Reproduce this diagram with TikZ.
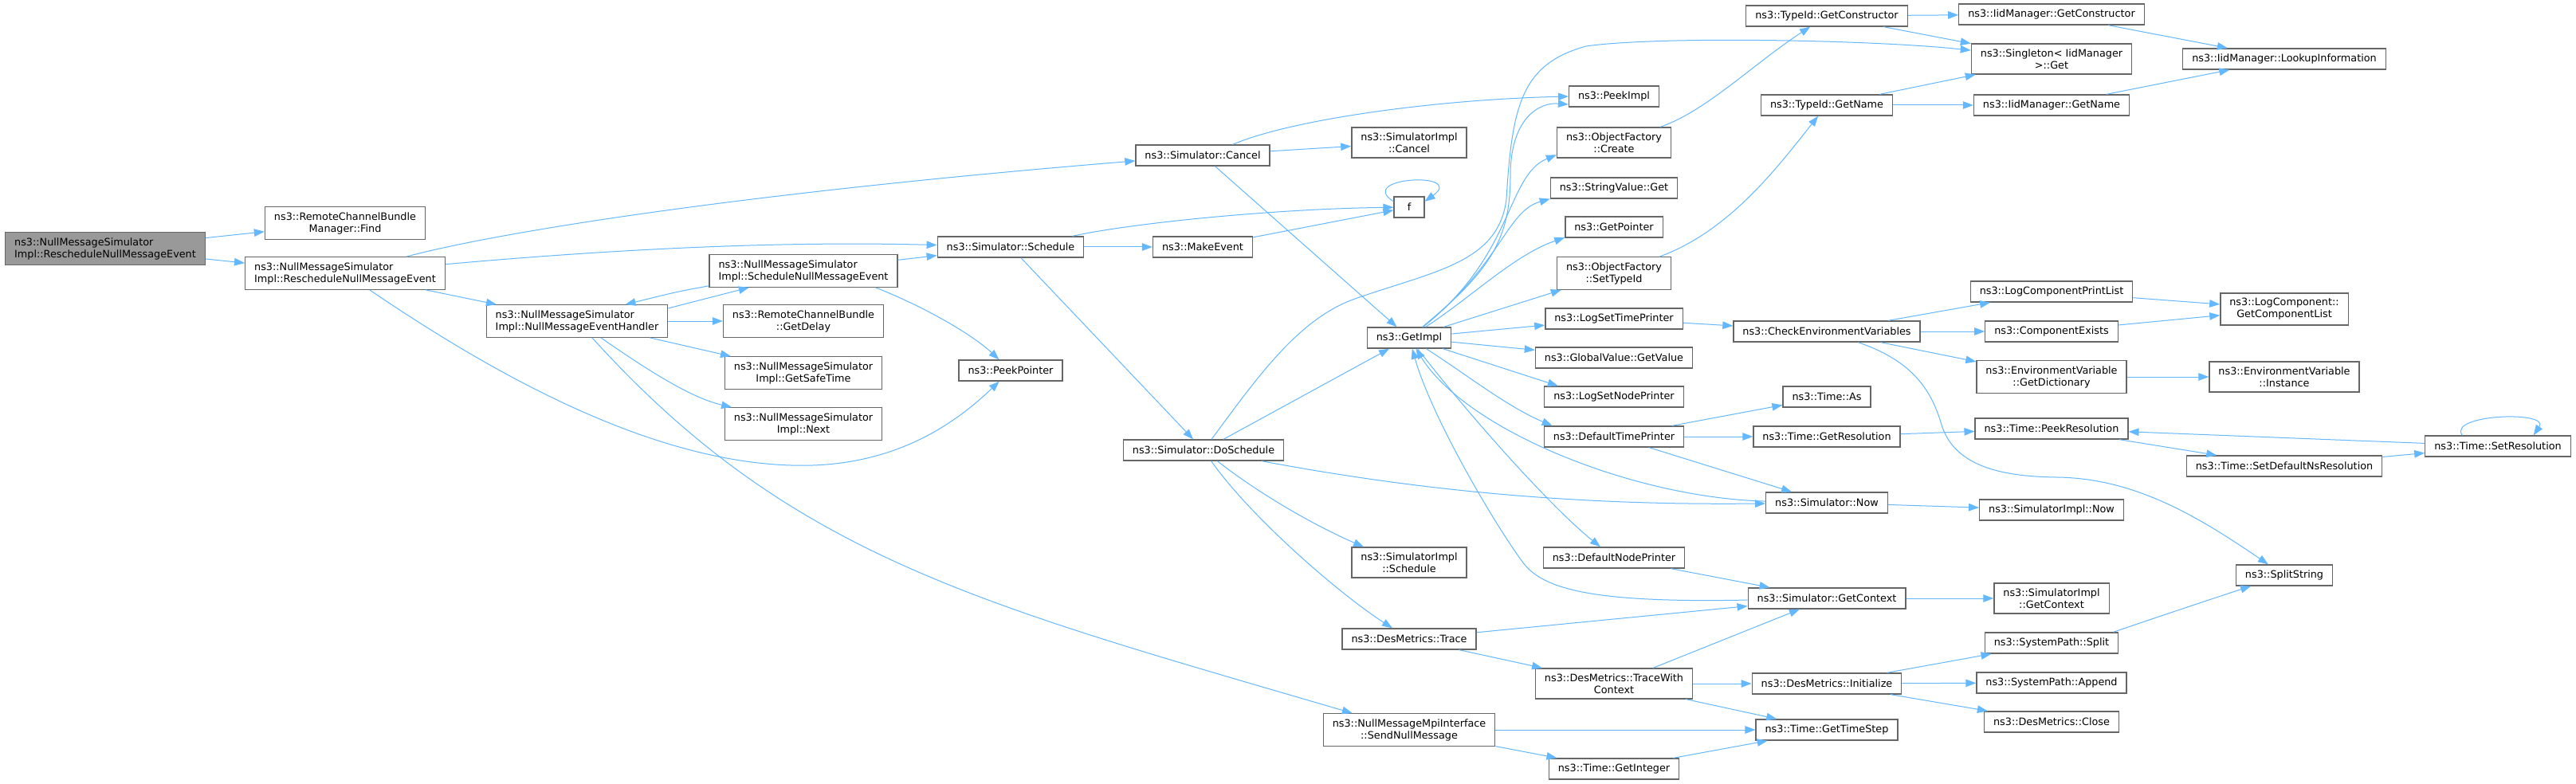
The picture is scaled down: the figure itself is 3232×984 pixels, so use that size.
\documentclass[tikz,border=0pt]{standalone}
\usepackage{fontspec}
\setmainfont{DejaVu Sans}
\usetikzlibrary{arrows.meta}
\definecolor{edgeBlue}{HTML}{63B8FF}
\definecolor{boxGray}{HTML}{666666}
\definecolor{rootFill}{HTML}{999999}
\tikzset{
    FuncBox/.style={draw=boxGray, fill=white, line width=1.3pt, inner xsep=11.5pt, inner ysep=6.5pt, minimum height=26pt, align=center, font=\fontsize{12.8}{15}\selectfont},
    LeftBox/.style={FuncBox, align=left},
    RootBox/.style={LeftBox, fill=rootFill},
    CallArrow/.style={draw=edgeBlue, line width=1pt, -{Triangle[length=13pt, width=9.5pt]}}
}

\begin{document}
\begin{tikzpicture}[x=1pt, y=-1pt]
    \fill[white] (0,0) rectangle (3232,984);
    \useasboundingbox (0,0) rectangle (3232,984);

    % caller side
    \node[RootBox] (root) at (132,312) {ns3::NullMessageSimulator\\Impl::RescheduleNullMessageEvent};
    \node[FuncBox] (find) at (433,280) {ns3::RemoteChannelBundle\\Manager::Find};
    \node[LeftBox] (rs) at (433,343) {ns3::NullMessageSimulator\\Impl::RescheduleNullMessageEvent};
    \node[LeftBox] (hdl) at (724,403) {ns3::NullMessageSimulator\\Impl::NullMessageEventHandler};
    \node[LeftBox] (snme) at (1008,340) {ns3::NullMessageSimulator\\Impl::ScheduleNullMessageEvent};
    \node[FuncBox] (gdelay) at (1008,403) {ns3::RemoteChannelBundle\\::GetDelay};
    \node[FuncBox] (gsafe) at (1008,468) {ns3::NullMessageSimulator\\Impl::GetSafeTime};
    \node[FuncBox] (next) at (1008,532) {ns3::NullMessageSimulator\\Impl::Next};
    \node[FuncBox] (sched) at (1268,310) {ns3::Simulator::Schedule};
    \node[FuncBox] (ppointer) at (1268,465) {ns3::PeekPointer};
    \node[FuncBox] (cancel) at (1509,195) {ns3::Simulator::Cancel};
    \node[FuncBox] (mkev) at (1509,310) {ns3::MakeEvent};
    \node[FuncBox] (dosched) at (1510,565) {ns3::Simulator::DoSchedule};

    % middle columns
    \node[FuncBox] (sicancel) at (1768,179) {ns3::SimulatorImpl\\::Cancel};
    \node[FuncBox, minimum width=38pt] (f) at (1768,260) {f};
    \node[FuncBox] (gimpl) at (1768,424) {ns3::GetImpl};
    \node[FuncBox] (sisched) at (1768,706) {ns3::SimulatorImpl\\::Schedule};
    \node[FuncBox] (trace) at (1768,802) {ns3::DesMetrics::Trace};
    \node[FuncBox] (sendnull) at (1768,916) {ns3::NullMessageMpiInterface\\::SendNullMessage};

    \foreach \nm/\yy/\txt in {pimpl/121/{ns3::PeekImpl}, ofcreate/179/{ns3::ObjectFactory\\::Create},
        svget/236/{ns3::StringValue::Get}, gptr/285/{ns3::GetPointer}, ofsettid/343/{ns3::ObjectFactory\\::SetTypeId},
        lstp/400/{ns3::LogSetTimePrinter}, gvval/449/{ns3::GlobalValue::GetValue}, lsnp/498/{ns3::LogSetNodePrinter},
        dtp/548/{ns3::DefaultTimePrinter}, dnp/700/{ns3::DefaultNodePrinter}, twc/858/{ns3::DesMetrics::TraceWith\\Context},
        gint/965/{ns3::Time::GetInteger}}
        \node[FuncBox] (\nm) at (2025,\yy) {\txt};

    \foreach \nm/\yy/\txt in {tgctor/20/{ns3::TypeId::GetConstructor}, tgname/132/{ns3::TypeId::GetName},
        cev/416/{ns3::CheckEnvironmentVariables}, tas/498/{ns3::Time::As}, tgres/548/{ns3::Time::GetResolution},
        snow/631/{ns3::Simulator::Now}, sgctx/751/{ns3::Simulator::GetContext}, dinit/858/{ns3::DesMetrics::Initialize},
        tstep/916/{ns3::Time::GetTimeStep}}
        \node[FuncBox] (\nm) at (2292,\yy) {\txt};

    % callee side
    \foreach \nm/\yy/\txt in {igctor/18/{ns3::IidManager::GetConstructor}, sing/74/{ns3::Singleton< IidManager\\>::Get},
        igname/132/{ns3::IidManager::GetName}, lcpl/366/{ns3::LogComponentPrintList}, cexists/416/{ns3::ComponentExists},
        gdict/473/{ns3::EnvironmentVariable\\::GetDictionary}, tpres/538/{ns3::Time::PeekResolution},
        sinow/640/{ns3::SimulatorImpl::Now}, sigctx/751/{ns3::SimulatorImpl\\::GetContext},
        spsplit/807/{ns3::SystemPath::Split}, spappend/857/{ns3::SystemPath::Append}, dclose/906/{ns3::DesMetrics::Close}}
        \node[FuncBox] (\nm) at (2574,\yy) {\txt};

    \foreach \nm/\yy/\txt in {lookup/74/{ns3::IidManager::LookupInformation}, gclist/388/{ns3::LogComponent::\\GetComponentList},
        einst/473/{ns3::EnvironmentVariable\\::Instance}, tsdns/585/{ns3::Time::SetDefaultNsResolution},
        split/722/{ns3::SplitString}}
        \node[FuncBox] (\nm) at (2866,\yy) {\txt};

    \node[FuncBox] (tsres) at (3134,560) {ns3::Time::SetResolution};

    % straight calls
    \foreach \a/\b in {root/find, root/rs, rs/hdl, hdl/gdelay, hdl/gsafe, snme/sched, sched/mkev, mkev/f,
        sched/dosched, cancel/sicancel, cancel/gimpl, dosched/gimpl, gimpl/ofsettid, gimpl/lstp, gimpl/gvval,
        trace/sgctx, trace/twc, twc/sgctx, twc/dinit, twc/tstep, sendnull/tstep, sendnull/gint, gint/tstep,
        dnp/sgctx, dtp/tas, dtp/tgres, dtp/snow, sgctx/sigctx, snow/sinow, tgres/tpres, tpres/tsdns,
        tsdns/tsres, tsres/tpres, tgctor/igctor, tgctor/sing, tgname/sing, tgname/igname, igctor/lookup,
        igname/lookup, lstp/cev, cev/lcpl, cev/cexists, cev/gdict, lcpl/gclist, cexists/gclist, gdict/einst,
        dinit/spsplit, dinit/spappend, dinit/dclose}
        \draw[CallArrow] (\a) -- (\b);

    % curved calls
    \draw[CallArrow] (rs) .. controls (610,295) and (900,245) .. (cancel);
    \draw[CallArrow] (rs) .. controls (800,310) and (1000,303) .. (sched);
    \draw[CallArrow] (rs) .. controls (620,470) and (830,590) .. (1020,584) .. controls (1130,580) and (1200,530) .. (ppointer);
    \draw[CallArrow] (hdl.8) -- (snme.197);
    \draw[CallArrow] (snme.189) .. controls (850,366) .. (hdl.19);
    \draw[CallArrow] (hdl) .. controls (820,470) and (870,500) .. (next);
    \draw[CallArrow] (hdl) .. controls (992,699) and (1228,758) .. (sendnull);
    \draw[CallArrow] (snme.-13) .. controls (1160,385) and (1220,420) .. (ppointer);
    \draw[CallArrow] (sched.10) .. controls (1420,280) and (1600,262) .. (f);
    \draw[CallArrow] (f.160) .. controls (1700,222) and (1840,215) .. (f.20);
    \draw[CallArrow] (cancel.20) .. controls (1620,150) and (1800,125) .. (pimpl.west);
    \draw[CallArrow] (gimpl) .. controls (1870,340) and (1895,300) .. (1895,220) .. controls (1895,150) and (1930,128) .. (pimpl.190);
    \draw[CallArrow] (gimpl) .. controls (1900,320) and (1890,220) .. (ofcreate.192);
    \draw[CallArrow] (gimpl) .. controls (1885,330) and (1890,265) .. (svget.south west);
    \draw[CallArrow] (gimpl) .. controls (1850,370) and (1900,320) .. (gptr.192);
    \draw[CallArrow] (gimpl) -- (lsnp.169);
    \draw[CallArrow] (gimpl) .. controls (1840,470) and (1890,510) .. (dtp.170);
    \draw[CallArrow] (gimpl) .. controls (1850,530) and (1950,640) .. (dnp);
    \draw[CallArrow] (snow) .. controls (2050,625) and (1840,540) .. (gimpl);
    \draw[CallArrow] (sgctx) .. controls (2000,757) and (1935,740) .. (1910,705) .. controls (1870,650) and (1795,520) .. (gimpl);
    \draw[CallArrow] (dosched) .. controls (1580,470) and (1630,400) .. (1700,375) .. controls (1800,340) and (1880,330) .. (1890,250)
        .. controls (1897,130) and (1910,80) .. (1990,58) .. controls (2080,45) and (2350,50) .. (sing);
    \draw[CallArrow] (dosched) .. controls (1750,610) and (1950,635) .. (snow);
    \draw[CallArrow] (dosched) .. controls (1580,620) and (1650,660) .. (sisched.161);
    \draw[CallArrow] (dosched) .. controls (1570,650) and (1680,745) .. (trace);
    \draw[CallArrow] (ofcreate) .. controls (2140,140) and (2200,80) .. (tgctor);
    \draw[CallArrow] (ofsettid) .. controls (2170,290) and (2230,210) .. (tgname);
    \draw[CallArrow] (cev) .. controls (2390,450) and (2420,480) .. (2435,530) .. controls (2450,585) and (2510,598) .. (2580,599)
        .. controls (2680,600) and (2760,650) .. (split);
    \draw[CallArrow] (spsplit.10) .. controls (2720,770) and (2780,750) .. (split);
    \draw[CallArrow] (tsres.163) .. controls (3070,520) and (3200,515) .. (tsres.17);
\end{tikzpicture}
\end{document}
